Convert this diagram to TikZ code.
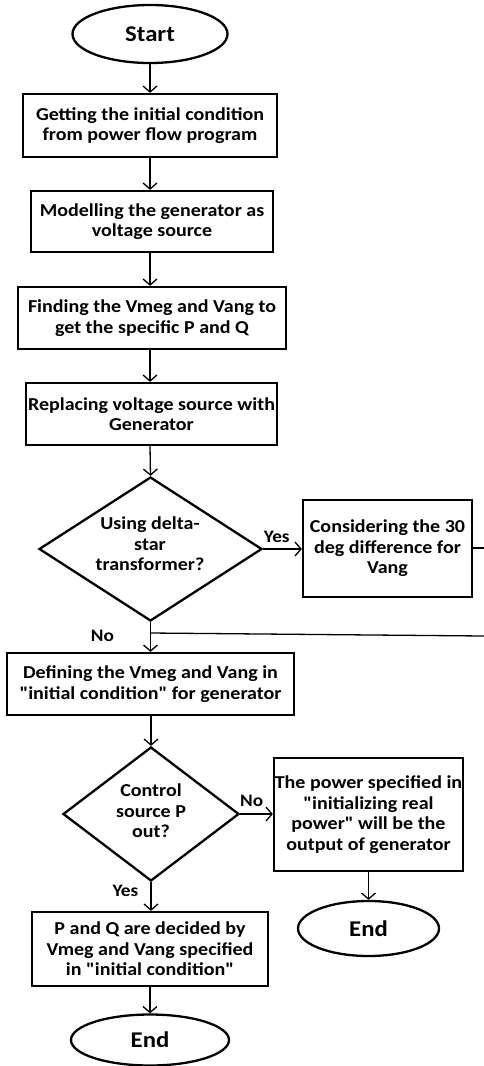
\documentclass[tikz,border=0pt]{standalone}
\usepackage{fontspec}
\newfontfamily\calf{Carlito}[FakeStretch=1.1]
\usetikzlibrary{shapes.geometric,arrows.meta}
\begin{document}
\begin{tikzpicture}[x=1pt,y=-1pt,
  every node/.style={font=\calf\bfseries\fontsize{18.2}{20.6}\selectfont, align=center, inner sep=0pt},
  procbox/.style={draw, line width=2.3pt, rectangle},
  term/.style={draw, line width=2.3pt, ellipse, font=\calf\bfseries\fontsize{22.5}{24}\selectfont},
  decis/.style={draw, line width=2.3pt, diamond},
  flow/.style={line width=1.3pt, -{Straight Barb[length=6pt,width=14pt,line width=1.3pt]}},
  plain/.style={line width=1.3pt},
  lbl/.style={font=\calf\bfseries\fontsize{17.5}{18}\selectfont}
]
\useasboundingbox (0,0) rectangle (484,1066);

\node[term, minimum width=155pt, minimum height=58pt] (start) at (150,34) {Start};
\node[procbox, minimum width=254pt, minimum height=63pt] (b1) at (150,125.5) {Getting the initial condition\\from power flow program};
\node[procbox, minimum width=242pt, minimum height=61pt] (b2) at (152,221.5) {Modelling the generator as\\voltage source};
\node[procbox, minimum width=268pt, minimum height=62pt] (b3) at (152,318) {Finding the Vmeg and Vang to\\get the specific P and Q};
\node[procbox, minimum width=251pt, minimum height=62pt] (b4) at (151.5,414) {Replacing voltage source with\\Generator};
\node[decis, aspect=1.55, minimum width=223pt, minimum height=144pt] (d1) at (150.5,549) {};
\node at (150,544) (d1t) {Using delta-\\star\\transformer?};
\node[procbox, minimum width=169pt, minimum height=97pt] (cons) at (387.5,548.5) {Considering the 30\\deg difference for\\Vang};
\node[procbox, minimum width=287pt, minimum height=62pt] (b5) at (150.5,684) {Defining the Vmeg and Vang in\\"initial condition" for generator};
\node[decis, aspect=1.31, minimum width=176pt, minimum height=134pt] (d2) at (151,814) {};
\node at (151,811) (d2t) {Control\\source P\\out?};
\node[procbox, minimum width=189pt, minimum height=113pt] (b6) at (368.5,814.5) {The power specified in\\"initializing real\\power" will be the\\output of generator};
\node[term, minimum width=141pt, minimum height=55pt] (end2) at (368.5,928.5) {End};
\node[procbox, minimum width=236pt, minimum height=74pt] (b7) at (150,949) {P and Q are decided by\\Vmeg and Vang specified\\in "initial condition"};
\node[term, minimum width=158pt, minimum height=51pt] (end1) at (150,1040) {End};

\coordinate (r1) at (484,548);
\coordinate (r2) at (484,636);
\coordinate (j) at (150,633);

\draw[flow] (start) -- (b1);
\draw[flow] (b1) -- (b2.north -| b1.south);
\draw[flow] (b2.south -| b1.south) -- (b3.north -| b1.south);
\draw[flow] (b3.south -| b1.south) -- (b4.north -| b1.south);
\draw[flow] (b4.south -| b1.south) -- (d1.north);
\draw[flow] (d1.east) -- (cons.west |- d1.east) node[lbl, pos=0.35, above=6pt] {Yes};
\draw[plain] (cons.east |- r1) -- (r1);
\draw[flow] (d1.south) -- (b5.north -| d1.south) node[lbl, pos=0.45, left=36pt] {No};
\draw[plain] (r2) -- (j);
\draw[flow] (b5.south -| d2.north) -- (d2.north);
\draw[flow] (d2.east) -- (b6.west |- d2.east) node[lbl, pos=0.35, above=7pt] {No};
\draw[flow] (b6.south -| end2.north) -- (end2.north);
\draw[flow] (d2.south) -- (b7.north -| d2.south) node[lbl, pos=0.3, left=12pt] {Yes};
\draw[flow] (b7.south -| end1.north) -- (end1.north);
\end{tikzpicture}
\end{document}
